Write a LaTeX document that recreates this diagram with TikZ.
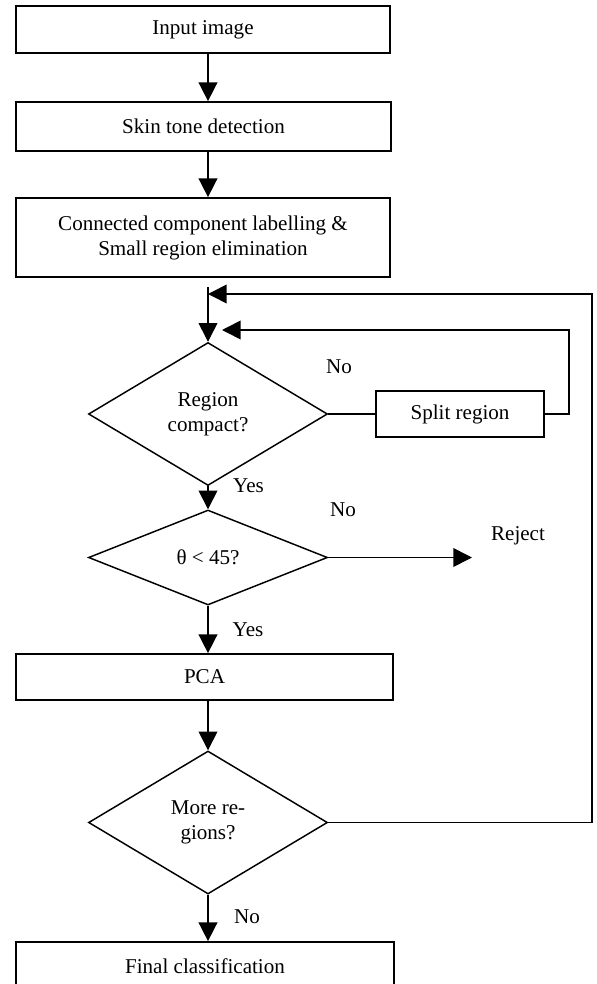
\documentclass[tikz,border=0pt]{standalone}
\usepackage{fontspec}
\setmainfont{Liberation Serif}
\usetikzlibrary{shapes.geometric,arrows.meta}
\begin{document}
\begin{tikzpicture}[x=0.75pt,y=-0.75pt,
  every node/.style={font=\fontsize{15.8}{18.8}\selectfont},
  box/.style={draw,line width=1.3pt,rectangle,inner sep=0pt,align=center},
  dia/.style={draw,line width=1.1pt,diamond,aspect=1.6,inner sep=0pt,align=center},
  arr/.style={line width=1.2pt,-{Triangle[length=14pt,width=14pt]}},
  ln/.style={line width=1.2pt},
  lbl/.style={anchor=base,inner sep=0pt}]
\useasboundingbox (0,0) rectangle (596,984);
\clip (0,0) rectangle (596,984);
\node[box,minimum width=280.5pt,minimum height=35.25pt] (input) at (203,29.5) {Input image};
\node[box,minimum width=281.25pt,minimum height=36.75pt] (skin) at (203.5,126.5) {Skin tone detection};
\node[box,minimum width=280.5pt,minimum height=59.25pt] (ccl) at (203,237.5) {Connected component labelling \&\\Small region elimination};
\node[dia,minimum width=179.25pt,minimum height=107.25pt] (d1) at (208,414) {Region\\compact?};
\node[box,minimum width=126pt,minimum height=34.5pt] (split) at (460,414) {Split region};
\node[dia,minimum width=179.25pt,minimum height=71.25pt] (d2) at (208,557.5) {θ < 45?};
\node[box,minimum width=282.75pt,minimum height=34.5pt] (pca) at (204.5,677) {PCA};
\node[dia,minimum width=179.25pt,minimum height=107.25pt] (d3) at (208,822.5) {More re-\\gions?};
\node[box,minimum width=283.5pt,minimum height=36pt] (final) at (205,966) {Final classification};

\coordinate (ax) at (208,0);
\coordinate (vtop) at (208,287);
\coordinate (r1) at (592,294);
\coordinate (r2) at (569,330);
\coordinate (t2) at (222,330);
\coordinate (rej) at (472,557.5);

\draw[arr] (input.south -| ax) -- (skin.north -| ax);
\draw[arr] (skin.south -| ax) -- (ccl.north -| ax);
\draw[arr] (vtop) -- (d1.north);
\draw[arr] (d3.east) -| (r1) -- (vtop |- r1);
\draw[ln] (d1.east) -- (split.west);
\draw[arr] (split.east) -| (r2) -- (t2);
\draw[arr] (d1.south) -- (d2.north);
\draw[arr] (d2.east) -- (rej);
\draw[arr] (d2.south) -- (pca.north -| ax);
\draw[arr] (pca.south -| ax) -- (d3.north);
\draw[arr] (d3.south) -- (final.north -| ax);

\node[lbl] (no1) at (339,373) {No};
\node[lbl] (yes1) at (248.5,492) {Yes};
\node[lbl] (no2) at (343,516) {No};
\node[lbl] (rejl) at (518,540) {Reject};
\node[lbl] (yes2) at (248,636) {Yes};
\node[lbl] (no3) at (247,923) {No};
\end{tikzpicture}
\end{document}
